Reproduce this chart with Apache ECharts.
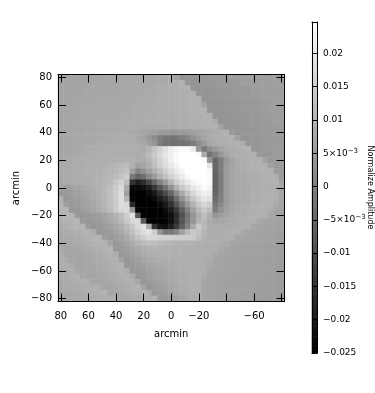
<!DOCTYPE html>
<html><head><meta charset="utf-8">
<style>html,body{margin:0;padding:0;background:#fff}#c{width:375px;height:393px}</style>
<script src="https://cdn.jsdelivr.net/npm/echarts@6/dist/echarts.min.js"></script>
</head><body><div id="c"></div>
<script>
// arcmin of each cell, left to right and top to bottom
const xArcmin = [80,76,72,68,64,60,56,52,48,44,40,36,32,28,24,20,16,12,8,4,0,-4,-8,-12,-16,-20,-24,-28,-32,-36,-40,-44,-48,-52,-56,-60,-64,-68,-72,-76,-80];
const yArcmin = [80,76,72,68,64,60,56,52,48,44,40,36,32,28,24,20,16,12,8,4,0,-4,-8,-12,-16,-20,-24,-28,-32,-36,-40,-44,-48,-52,-56,-60,-64,-68,-72,-76,-80];
const xTickLabels = {'80':'80','60':'60','40':'40','20':'20','0':'0','-20':'−20','-60':'−60'};
const yTickLabels = {'80':'80','60':'60','40':'40','20':'20','0':'0','-20':'−20','-40':'−40','-60':'−60','-80':'−80'};
const colorTicks = [-0.025,-0.02,-0.015,-0.01,-0.005,0,0.005,0.01,0.015,0.02];
const colorTickLabels = ['−0.025','−0.02','−0.015','−0.01','−5×10{sup|−3}','0','5×10{sup|−3}','0.01','0.015','0.02'];
const amplitudeMin = -0.025, amplitudeMax = 0.0247;
// colour-bar levels, bottom to top, in units of 1e-4
const colorLevels = [-250,-245,-240,-235,-230,-225,-220,-215,-210,-205,-200,-195,-190,-185,-180,-175,-170,-165,-160,-155,-150,-145,-140,-135,-130,-125,-120,-115,-110,-105,-100,-95,-90,-85,-80,-75,-70,-65,-60,-55,-50,-45,-40,-35,-30,-25,-20,-15,-10,-5,0,5,10,15,20,25,30,35,40,45,50,55,60,65,70,75,80,85,90,95,100,105,110,115,120,125,130,135,140,145,150,155,160,165,170,175,180,185,190,195,200,205,210,215,220,225,230,235,240,245];
// normalized amplitude in units of 1e-4, row by row from the top
const amplitudeRows = [
[70,70,70,70,70,70,70,72,73,74,74,75,75,76,76,77,77,78,82,86,92,66,38,38,40,42,44,46,46,48,48,58,58,58,58,58,58,58,58,60,60],
[70,70,70,70,70,70,72,73,74,75,75,75,76,76,77,77,78,80,82,84,88,92,96,44,38,40,42,44,46,46,48,48,50,58,58,58,58,58,58,58,58],
[70,70,70,70,70,72,73,74,75,75,76,76,77,77,78,78,80,82,84,86,88,90,93,97,38,38,40,42,44,46,46,48,48,50,50,58,58,58,58,58,58],
[70,70,70,70,72,73,74,75,75,76,76,77,77,78,78,80,81,82,84,86,88,90,92,94,97,44,40,40,42,44,46,46,48,48,50,52,58,58,58,58,58],
[70,70,70,72,73,74,75,76,76,77,77,78,78,79,80,81,82,84,85,86,88,90,92,94,96,97,38,40,40,42,44,44,46,48,48,50,52,58,58,58,58],
[70,70,72,73,75,76,76,77,77,78,78,79,79,80,81,82,83,84,85,87,88,90,92,94,96,97,66,38,40,40,42,44,44,46,48,48,50,52,58,58,58],
[70,70,72,74,75,76,77,77,78,78,79,80,80,81,82,83,84,85,86,87,88,90,92,93,94,96,97,44,40,40,42,44,46,46,48,48,50,52,58,58,58],
[70,72,74,75,76,77,77,78,78,79,80,80,81,82,83,84,85,86,87,88,88,90,91,92,93,94,96,97,38,40,40,42,44,46,46,48,50,52,52,58,58],
[72,73,75,76,77,78,78,79,80,80,81,82,83,84,85,85,86,86,87,87,88,88,90,91,92,94,95,97,80,38,40,42,42,44,46,48,48,50,52,58,58],
[72,74,75,76,77,78,79,80,80,82,83,84,85,85,84,82,82,82,82,84,85,86,87,88,90,91,92,95,97,66,38,40,42,42,44,46,48,48,50,52,54],
[72,74,75,76,78,79,80,80,82,83,84,85,84,82,78,72,66,60,54,50,48,48,50,54,60,68,76,84,88,92,96,55,40,42,44,44,46,48,48,50,52],
[72,74,76,78,78,80,80,80,82,84,85,86,86,84,78,66,46,20,-5,-20,-25,-20,-8,10,32,55,72,84,90,92,94,97,66,40,42,44,46,46,48,50,52],
[72,74,76,78,79,80,81,83,85,86,88,88,88,86,84,77,62,42,-6,-30,-30,-30,-30,-20,-6,23,52,75,85,90,92,94,96,85,40,42,44,46,48,50,52],
[72,74,76,78,80,83,85,86,88,89,90,90,90,89,88,81,101,130,159,189,214,228,237,237,208,42,-10,25,50,70,82,88,92,94,97,44,44,46,48,50,52],
[72,75,78,80,83,85,87,88,89,90,90,90,89,88,85,91,111,140,169,198,218,237,247,247,247,237,81,-25,10,45,70,85,90,92,94,97,50,44,48,50,52],
[74,78,80,83,85,87,88,89,90,91,92,93,94,97,85,85,101,130,159,189,214,237,247,247,247,247,237,42,-45,-5,45,70,85,90,92,94,96,66,46,50,52],
[78,82,84,86,88,90,91,92,94,97,102,110,116,91,62,72,91,120,150,179,202,228,247,247,247,247,247,198,-45,-5,50,70,82,88,92,94,96,97,66,48,52],
[82,82,84,86,88,90,92,94,98,102,110,120,130,62,3,33,62,91,120,153,183,208,228,247,247,247,247,237,-55,-8,55,72,80,86,90,92,94,96,97,55,52],
[80,82,83,85,87,89,92,96,100,106,116,132,150,-16,-55,-36,13,52,91,124,155,183,208,233,247,247,247,241,-55,-8,55,72,80,84,88,90,92,94,96,90,50],
[78,80,82,84,86,88,92,96,102,110,135,160,120,-153,-192,-162,-114,-55,3,52,101,150,179,202,228,241,247,237,-55,-8,55,72,80,82,86,88,90,92,94,96,66],
[72,56,62,68,74,80,88,96,106,120,145,175,81,-230,-230,-221,-192,-143,-84,-26,33,97,140,169,198,218,237,228,-55,-8,55,72,80,82,86,90,92,92,90,88,78],
[46,50,56,62,70,78,86,96,108,124,150,180,62,-244,-250,-250,-230,-201,-153,-104,-55,23,81,130,169,198,218,208,-55,-5,55,72,80,82,86,90,92,94,94,92,72],
[89,46,52,58,66,74,84,94,106,122,148,180,101,-240,-250,-250,-250,-230,-201,-162,-114,-36,33,91,136,169,198,189,-40,0,55,72,80,82,86,90,92,94,94,90,70],
[100,62,46,52,60,68,78,90,104,122,146,178,169,-172,-250,-250,-250,-250,-230,-201,-153,-84,-16,52,101,140,169,150,-20,15,55,72,80,84,86,90,92,94,94,82,70],
[100,100,44,46,54,62,72,84,98,118,145,172,179,42,-240,-250,-250,-250,-250,-227,-192,-133,-65,3,62,111,140,120,-6,35,60,74,82,86,90,92,94,94,88,70,68],
[100,102,100,50,44,46,52,60,70,82,98,118,150,189,-75,-244,-250,-250,-250,-240,-221,-162,-94,-26,42,85,120,91,42,60,72,80,86,90,92,94,94,92,76,70,68],
[92,98,100,102,50,44,48,54,64,76,92,112,140,170,179,-75,-240,-250,-250,-240,-221,-162,-84,-16,42,97,111,81,72,76,80,84,88,90,92,94,80,70,68,66,66],
[84,90,96,100,102,55,44,48,54,64,76,92,112,140,172,189,81,-153,-211,-221,-192,-133,-65,3,81,140,111,85,85,85,86,88,90,92,94,72,70,68,66,66,64],
[80,84,88,92,96,100,84,44,48,56,66,80,100,125,155,180,189,150,42,-16,-16,13,62,111,140,130,101,88,86,88,90,92,92,82,70,68,66,66,64,64,62],
[78,80,82,86,90,94,98,100,60,48,56,66,82,105,130,150,169,169,159,159,155,150,150,150,140,120,97,90,88,90,90,90,72,70,68,66,66,64,64,62,62],
[76,78,82,86,88,92,96,98,100,72,48,56,70,85,100,112,120,120,111,105,101,97,97,97,97,91,90,90,90,90,82,70,68,66,66,66,64,64,62,62,60],
[82,72,74,76,80,84,88,92,96,100,50,50,58,70,82,92,96,98,96,94,94,92,92,90,90,90,90,88,88,80,72,70,68,66,66,64,64,62,62,60,60],
[92,72,72,74,76,80,84,88,92,96,88,46,52,62,72,82,88,92,94,94,94,92,92,90,90,90,90,88,80,72,70,68,66,66,64,64,62,62,60,60,60],
[90,84,72,72,74,78,82,86,90,94,98,66,46,54,64,74,82,86,90,90,90,90,90,90,90,90,88,88,72,70,68,66,66,64,64,62,62,60,60,60,58],
[86,92,82,72,72,74,78,82,86,90,94,98,50,46,54,62,70,76,80,84,86,88,90,90,90,90,90,80,72,70,68,66,64,64,62,62,60,60,60,58,58],
[84,88,94,78,72,74,76,80,84,88,92,96,88,44,48,54,60,68,74,80,84,86,88,90,90,90,90,72,70,68,66,64,64,62,62,60,60,60,58,58,58],
[82,84,88,94,78,72,74,76,80,84,88,92,96,84,44,50,58,66,72,78,82,86,88,90,90,90,80,70,68,66,64,64,62,62,60,60,60,58,58,58,56],
[80,82,84,88,92,90,72,74,76,80,84,88,92,96,76,44,50,58,66,72,78,84,88,90,90,90,72,70,68,66,64,64,62,62,60,60,58,58,58,56,56],
[78,80,82,84,86,90,94,90,72,74,78,82,86,92,96,72,44,50,58,66,72,78,84,88,90,90,72,70,68,66,64,64,62,62,60,60,58,58,56,56,56],
[76,78,80,82,84,86,90,92,96,72,76,80,84,88,92,96,88,44,52,60,68,76,82,88,90,90,72,70,68,66,64,64,62,60,60,58,58,56,56,56,54],
[74,76,78,80,82,84,86,90,92,94,90,72,76,80,84,88,92,96,50,46,54,64,72,80,86,90,72,70,68,66,64,62,62,60,60,58,58,56,56,54,54]
];
const cells = [];
amplitudeRows.forEach((row, j) => row.forEach((v, i) => cells.push([i, j, v * 1e-4])));
const barCells = colorLevels.map((v, k) => [0, k, v * 1e-4]);

const font = 'DejaVu Sans';
const black = {color:'#000', width:1};
const catAxis = (data, extra) => Object.assign({
  type:'category', data, gridIndex:0, z:10,
  axisLine:{show:true, onZero:false, lineStyle:black},
  axisTick:{show:true, inside:true, length:8, interval:4, alignWithLabel:true, lineStyle:black},
  splitLine:{show:false}, splitArea:{show:false}, axisLabel:{show:false}
}, extra);
const barX = (position) => ({
  type:'value', gridIndex:1, position, min:0, max:1, z:10,
  axisLine:{show:true, onZero:false, lineStyle:black}, axisTick:{show:false}, axisLabel:{show:false}, splitLine:{show:false}
});
const chart = echarts.init(document.getElementById('c'), null, {renderer:'canvas'});
chart.setOption({
  animation:false,
  backgroundColor:'#fff',
  textStyle:{fontFamily:font},
  grid:[
    {left:58, top:74.5, width:226.5, height:227},
    {left:312, top:22, width:6, height:331}
  ],
  visualMap:{
    show:false, type:'continuous', seriesIndex:[0,1], dimension:2, min:amplitudeMin, max:amplitudeMax,
    inRange:{color:['#000000','#ffffff']}
  },
  xAxis:[
    catAxis(xArcmin, {position:'bottom', name:'arcmin', nameLocation:'middle', nameGap:28,
      nameTextStyle:{fontFamily:font, fontSize:10, color:'#000'},
      axisLabel:{show:true, interval:4, margin:10, fontFamily:font, fontSize:10, color:'#000',
        formatter:v => xTickLabels[v] || ''}}),
    catAxis(xArcmin, {position:'top'}),
    {type:'category', gridIndex:1, data:['level'], show:false},
    barX('bottom'), barX('top')
  ],
  yAxis:[
    catAxis(yArcmin, {position:'left', inverse:true, name:'arcmin', nameLocation:'middle', nameGap:37, nameMoveOverlap:false,
      nameTextStyle:{fontFamily:font, fontSize:10, color:'#000'},
      axisLabel:{show:true, interval:4, margin:6, fontFamily:font, fontSize:10, color:'#000',
        formatter:v => yTickLabels[v] || ''}}),
    catAxis(yArcmin, {position:'right', inverse:true}),
    {type:'category', gridIndex:1, data:colorLevels, show:false},
    {type:'value', gridIndex:1, position:'left', min:amplitudeMin, max:amplitudeMax, z:10,
      axisLine:{show:true, onZero:false, lineStyle:black},
      axisTick:{show:true, inside:true, length:3, customValues:colorTicks, lineStyle:black},
      axisLabel:{show:false}, splitLine:{show:false}},
    {type:'value', gridIndex:1, position:'right', min:amplitudeMin, max:amplitudeMax, z:10,
      name:'Normalize Amplitude', nameLocation:'middle', nameGap:49, nameRotate:-90, nameMoveOverlap:false,
      nameTextStyle:{fontFamily:font, fontSize:8, color:'#000'},
      axisLine:{show:true, onZero:false, lineStyle:black},
      axisTick:{show:true, inside:true, length:3, customValues:colorTicks, lineStyle:black},
      axisLabel:{show:true, margin:6, customValues:colorTicks, fontFamily:font, fontSize:9, color:'#000',
        formatter:v => { const k = colorTicks.findIndex(t => Math.abs(t - v) < 1e-6); return k < 0 ? '' : colorTickLabels[k]; },
        rich:{sup:{fontFamily:font, fontSize:7, color:'#000', padding:[0,0,5,0]}}},
      splitLine:{show:false}}
  ],
  series:[{
    type:'heatmap', xAxisIndex:0, yAxisIndex:0, data:cells, silent:true, progressive:0,
    emphasis:{disabled:true}, itemStyle:{borderWidth:0}
  },{
    type:'heatmap', xAxisIndex:2, yAxisIndex:2, data:barCells, silent:true, progressive:0,
    emphasis:{disabled:true}, itemStyle:{borderWidth:0}
  }]
});
</script></body></html>
